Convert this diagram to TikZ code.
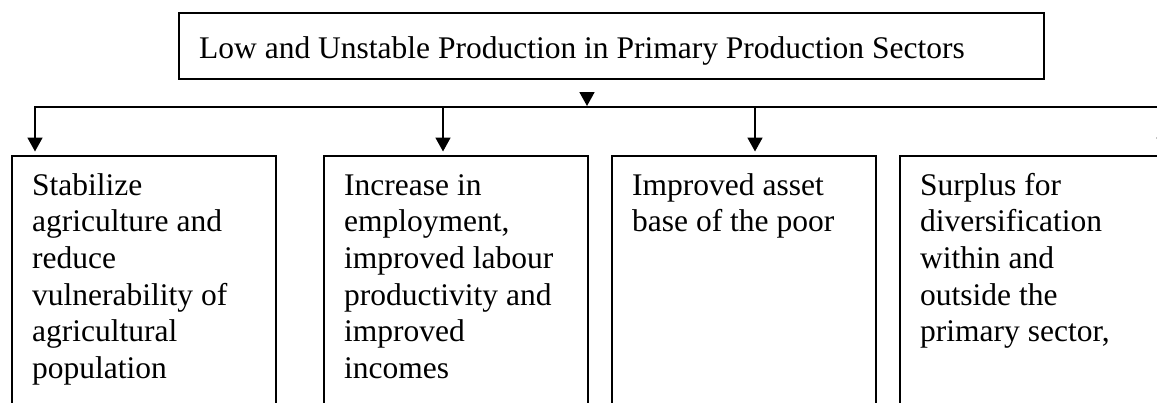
\documentclass[tikz,border=0pt]{standalone}
\usepackage{fontspec}
\setmainfont{Liberation Serif}
\usetikzlibrary{arrows.meta,calc}
\begin{document}
\begin{tikzpicture}[x=1pt,y=-1pt,
  frame/.style={draw, line width=1.8pt, anchor=north west, inner sep=0pt},
  box/.style={frame, minimum width=264pt, minimum height=290pt},
  txt/.style={font=\fontsize{31.5pt}{36.7pt}\selectfont, align=left, anchor=base west, inner sep=0pt},
  conn/.style={line width=1.8pt, line join=miter, -{Triangle[length=14pt,width=15pt]}},
]
\useasboundingbox (0,0) rectangle (1157,402);
\clip (0,0) rectangle (1157,402);

% top box
\node[frame, minimum width=865pt, minimum height=66pt] (top) at (178,12) {};
\node[txt] (toptxt) at (199,58) {Low and Unstable Production in Primary Production Sectors};

% lower boxes
\node[box] (b1) at (11,155) {};
\node[box] (b2) at (323,155) {};
\node[box] (b3) at (611,155) {};
\node[box] (b4) at (899,155) {};

% texts: anchor is the baseline of the last line (first baseline at y=195, 36.7 apart)
\node[txt] (t1) at (32,378.5) {Stabilize\\agriculture and\\reduce\\vulnerability of\\agricultural\\population};
\node[txt] (t2) at (344,378.5) {Increase in\\employment,\\improved labour\\productivity and\\improved\\incomes};
\node[txt] (t3) at (632,231.7) {Improved asset\\base of the poor};
\node[txt] (t4) at (920,341.8) {Surplus for\\diversification\\within and\\outside the\\primary sector,};

% connectors
\coordinate (h1) at (35,107);
\coordinate (h2) at (443,107);
\coordinate (h3) at (755,107);
\coordinate (h4) at (1164,107);
\coordinate (tA) at (587,92);
\coordinate (tB) at (587,106);

\draw[conn] (tA) -- (tB);
\draw[conn, shorten >=3.5pt] (h4) -- (h1) -- (h1 |- b1.north);
\draw[conn, shorten >=3.5pt] (h2) -- (h2 |- b2.north);
\draw[conn, shorten >=3.5pt] (h3) -- (h3 |- b3.north);
\draw[conn, shorten >=3.5pt] (h4) -- (h4 |- b4.north);
\end{tikzpicture}
\end{document}
